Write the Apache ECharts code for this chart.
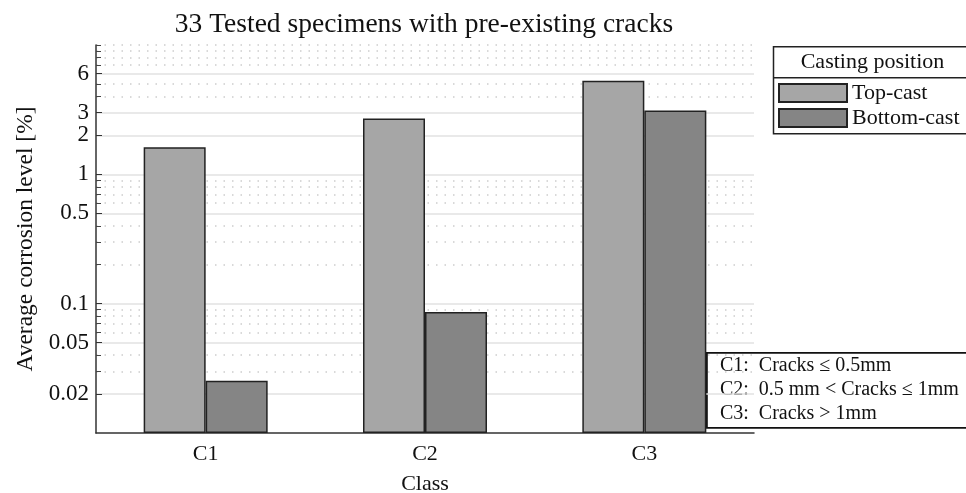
<!DOCTYPE html>
<html>
<head>
<meta charset="utf-8">
<script src="https://cdn.jsdelivr.net/npm/echarts@6/dist/echarts.min.js"></script>
<style>
  html, body { margin: 0; padding: 0; background: #fff; }
  #chart { width: 966px; height: 493px; }
</style>
</head>
<body>
<div id="chart"></div>
<script>
const classes = ['C1', 'C2', 'C3'];
const topCast = [1.62, 2.7, 5.3];
const bottomCast = [0.0254, 0.0861, 3.11];
// labelled ticks get a solid grid line, the rest are dotted
const majorTicks = [0.02, 0.05, 0.1, 0.5, 1, 2, 3, 6];
const minorTicks = [0.03, 0.04, 0.06, 0.07, 0.08, 0.09, 0.2, 0.3, 0.4, 0.6, 0.7, 0.8, 0.9, 4, 5, 7, 8, 9, 10];
const classNotes = ['C1:  Cracks ≤ 0.5mm', 'C2:  0.5 mm < Cracks ≤ 1mm', 'C3:  Cracks > 1mm'];

const FONT = '"Liberation Serif", "DejaVu Serif", serif';
const chart = echarts.init(document.getElementById('chart'));

chart.setOption({
  animation: false,
  textStyle: { fontFamily: FONT, color: '#111' },
  title: {
    text: '33 Tested specimens with pre-existing cracks',
    left: 419, top: 6, textAlign: 'center',
    textStyle: { fontFamily: FONT, fontSize: 27.5, fontWeight: 'normal', color: '#111' },
  },
  grid: { left: 96, right: 212, top: 45, bottom: 60, outerBoundsMode: 'none' },
  legend: {
    orient: 'vertical',
    left: 778, top: 82, padding: 0,
    itemWidth: 68, itemHeight: 18, itemGap: 3,
    icon: 'rect',
    z: 20,
    textStyle: { fontFamily: FONT, fontSize: 22, color: '#111' },
    data: ['Top-cast', 'Bottom-cast'],
  },
  xAxis: {
    type: 'category',
    data: classes,
    name: 'Class',
    nameLocation: 'middle',
    nameGap: 40,
    nameTextStyle: { fontFamily: FONT, fontSize: 22, color: '#111' },
    axisLine: { lineStyle: { color: '#333', width: 1.5 } },
    axisTick: { show: false },
    axisLabel: { fontFamily: FONT, fontSize: 22, color: '#111', margin: 10 },
  },
  yAxis: [{
    type: 'log', logBase: 10, min: 0.01, max: 10, startValue: 0.01,
    position: 'left',
    name: 'Average corrosion level [%]',
    nameLocation: 'middle',
    nameGap: 58,
    nameRotate: 90,
    nameTextStyle: { fontFamily: FONT, fontSize: 23.5, color: '#111' },
    axisLine: { show: true, lineStyle: { color: '#333', width: 1.5 } },
    axisTick: { show: true, inside: true, length: 6, customValues: majorTicks, lineStyle: { color: '#333' } },
    axisLabel: { customValues: majorTicks, fontFamily: FONT, fontSize: 23, color: '#111', margin: 7, formatter: v => String(+v.toPrecision(3)) },
    splitLine: { show: true, lineStyle: { color: '#e2e2e2', width: 1.5 } },
  }, {
    type: 'log', logBase: 10, min: 0.01, max: 10,
    position: 'left',
    axisLine: { show: false },
    axisTick: { show: true, inside: true, length: 5, customValues: minorTicks, lineStyle: { color: '#444' } },
    axisLabel: { show: false, customValues: minorTicks },
    splitLine: { show: true, lineStyle: { color: '#cdcdcd', width: 1.5, type: [1.5, 7] } },
  }],
  series: [{
    name: 'Top-cast', type: 'bar', data: topCast,
    barWidth: 62, barGap: '0%',
    itemStyle: { color: '#a6a6a6', borderColor: '#222', borderWidth: 1.5 },
  }, {
    name: 'Bottom-cast', type: 'bar', data: bottomCast,
    barWidth: 62, barGap: '0%',
    itemStyle: { color: '#858585', borderColor: '#222', borderWidth: 1.5 },
  }],
  graphic: [{
    type: 'group', left: 771, top: 46, z: 5,
    children: [
      { type: 'rect', shape: { x: 0, y: 0, width: 210, height: 87 }, style: { fill: '#fff', stroke: '#222', lineWidth: 1.5 } },
      { type: 'line', shape: { x1: 0, y1: 31, x2: 210, y2: 31 }, style: { stroke: '#222', lineWidth: 1.5 } },
      { type: 'text', x: 99, y: 15, style: { text: 'Casting position', font: '22px ' + FONT, fill: '#111', align: 'center', verticalAlign: 'middle' } },
    ],
  }, {
    type: 'group', left: 706, top: 352, z: 10,
    children: [
      { type: 'rect', shape: { x: 0, y: 0, width: 270, height: 75 }, style: { fill: '#fff', stroke: '#111', lineWidth: 1.8 } },
    ].concat(classNotes.map((t, i) => ({
      type: 'text', x: 13, y: 13 + i * 24,
      style: { text: t, font: '20px ' + FONT, fill: '#111', verticalAlign: 'middle' },
    }))),
  }],
});
</script>
</body>
</html>
